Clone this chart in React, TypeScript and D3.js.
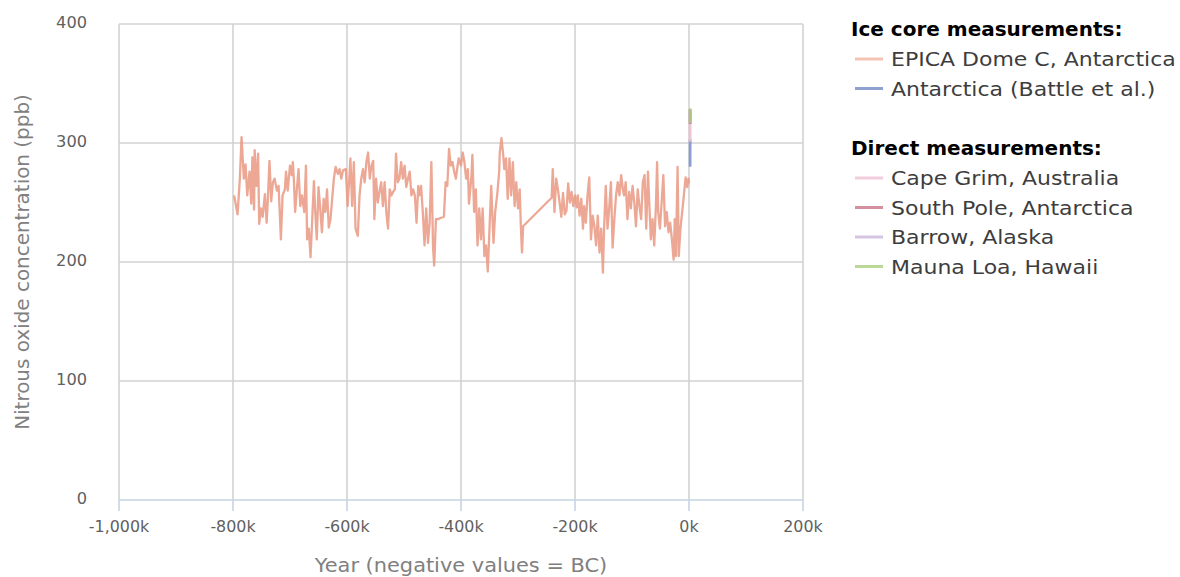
import React from 'react';
import * as d3 from 'd3';

// year in thousands (negative = BC), N2O in ppb
const epicaYears = [
  -798, -792, -788, -785, -781, -778, -775, -771, -768, -766, -763, -762, -759, -756, -754, -751, -748, -744, -741, -739,
  -736, -733, -730, -727, -723, -720, -716, -713, -709, -707, -704, -700, -697, -695, -693, -691, -688, -685, -682, -679,
  -675, -672, -670, -667, -664, -661, -658, -656, -653, -650, -647, -644, -641, -638, -635, -632, -629, -626, -623, -620,
  -616, -613, -610, -607, -602, -599, -596, -594, -591, -588, -585, -581, -578, -575, -572, -569, -566, -563, -560, -557,
  -554, -552, -549, -546, -543, -540, -537, -534, -531, -528, -525, -522, -519, -516, -514, -511, -508, -505, -502, -499,
  -496, -493, -490, -487, -484, -481, -478, -475, -473, -470, -467, -464, -461, -458, -455, -452, -449, -447, -444, -440,
  -436, -430, -427, -424, -421, -418, -415, -412, -409, -406, -404, -400, -397, -394, -391, -388, -386, -382, -380, -377,
  -374, -371, -368, -365, -362, -359, -356, -353, -350, -347, -343, -340, -336, -333, -332, -329, -326, -324, -321, -318,
  -315, -312, -309, -306, -303, -300, -297, -295, -293, -291, -241, -239, -236, -233, -230, -227, -224, -221, -218, -215,
  -212, -209, -206, -203, -200, -197, -195, -192, -189, -186, -184, -181, -178, -175, -172, -169, -166, -163, -160, -157,
  -154, -151, -149, -146, -143, -140, -137, -134, -131, -128, -125, -122, -119, -116, -114, -111, -108, -105, -102, -99,
  -96, -93, -90, -87, -84, -81, -78, -75, -72, -69, -67, -64, -61, -58, -56, -54, -51, -48, -45, -42,
  -39, -36, -33, -30, -27, -25, -23, -20, -18, -15, -12, -9, -6, -3, -1, 0,
];
const epicaValues = [
  256, 240, 270, 305, 270, 282, 256, 276, 249, 288, 244, 294, 264, 291, 232, 245, 238, 257, 233, 251,
  285, 251, 267, 270, 260, 264, 219, 256, 261, 276, 260, 281, 273, 284, 267, 242, 261, 278, 247, 256,
  242, 281, 219, 228, 204, 236, 268, 245, 219, 263, 245, 225, 253, 242, 261, 229, 236, 253, 270, 280,
  274, 278, 270, 277, 278, 247, 270, 287, 247, 284, 228, 222, 256, 270, 278, 267, 284, 292, 270, 281,
  285, 236, 270, 250, 259, 267, 247, 267, 242, 228, 261, 256, 259, 261, 291, 267, 270, 284, 270, 281,
  263, 270, 276, 256, 261, 256, 233, 264, 256, 264, 242, 214, 245, 216, 233, 284, 212, 197, 236, 236,
  237, 238, 267, 264, 295, 281, 284, 276, 270, 281, 287, 281, 292, 284, 270, 278, 249, 270, 290, 242,
  261, 214, 245, 219, 245, 205, 214, 192, 228, 264, 216, 242, 259, 276, 292, 304, 290, 278, 287, 253,
  287, 256, 284, 247, 267, 245, 261, 230, 208, 230, 254, 278, 242, 270, 261, 250, 238, 258, 240, 243,
  266, 250, 259, 247, 256, 246, 256, 239, 253, 228, 247, 233, 256, 271, 219, 239, 230, 214, 239, 208,
  228, 191, 228, 264, 228, 245, 267, 212, 236, 256, 267, 256, 273, 261, 256, 267, 236, 259, 245, 264,
  250, 230, 261, 247, 236, 267, 273, 228, 276, 242, 219, 236, 214, 247, 284, 242, 228, 250, 273, 230,
  242, 225, 233, 219, 202, 236, 205, 280, 205, 228, 242, 256, 271, 263, 270, 266,
];

const battleYears = [1.903, 1.92, 1.94, 1.96, 1.975, 1.99];
const battleValues = [280, 283, 287, 292, 297, 303];
const capeGrimYears = [1.978, 1.99, 2.0, 2.013];
const capeGrimValues = [301, 307, 316, 325];
const southPoleYears = [1.998, 2.006, 2.015];
const southPoleValues = [316, 320, 328];
const barrowYears = [1.999, 2.007, 2.015];
const barrowValues = [317, 321, 328];
const maunaLoaYears = [1.996, 2.005, 2.016];
const maunaLoaValues = [317, 321, 329];

const xTicks = [-1000, -800, -600, -400, -200, 0, 200];
const yTicks = [0, 100, 200, 300, 400];

const iceCoreSeries = [
  { name: 'EPICA Dome C, Antarctica', years: epicaYears, values: epicaValues, color: '#e99883', legend: '#f3c3b4' },
  { name: 'Antarctica (Battle et al.)', years: battleYears, values: battleValues, color: '#7f95cc', legend: '#8ea1cf' },
];
const directSeries = [
  { name: 'Cape Grim, Australia', years: capeGrimYears, values: capeGrimValues, color: '#f0bcd2', legend: '#f2cddc' },
  { name: 'South Pole, Antarctica', years: southPoleYears, values: southPoleValues, color: '#c97f92', legend: '#d4909f' },
  { name: 'Barrow, Alaska', years: barrowYears, values: barrowValues, color: '#cdb5e0', legend: '#d6c4e3' },
  { name: 'Mauna Loa, Hawaii', years: maunaLoaYears, values: maunaLoaValues, color: '#a9c77a', legend: '#bcd898' },
];

const width = 1180;
const height = 577;
const FONT = 'DejaVu Sans, Verdana, sans-serif';

const x = d3.scaleLinear().domain([-1000, 200]).range([119, 803]);
const y = d3.scaleLinear().domain([0, 400]).range([500, 24]);

const fmtX = (v: number) => (v < 0 ? '-' : '') + d3.format(',')(Math.abs(v)) + 'k';

// text with a little horizontal stretch to match the reference glyph widths
const Txt = ({ x, y, sx = 1, rotate = 0, anchor = 'start', size, fill, weight = 'normal', children }: any) => (
  <text
    transform={`translate(${x},${y}) rotate(${rotate}) scale(${sx},1)`}
    textAnchor={anchor}
    fontSize={size}
    fill={fill}
    fontWeight={weight}
    fontFamily={FONT}
  >
    {children}
  </text>
);

const App = () => {
  const pathFor = (s: any) =>
    d3
      .line<[number, number]>()
      .x((d) => x(d[0]))
      .y((d) => y(d[1]))(s.years.map((yr: number, i: number) => [yr, s.values[i]]));

  const allSeries = [...iceCoreSeries, ...directSeries];

  const legendBlock = (title: string, items: any[], top: number) => (
    <g>
      <Txt x={851} y={top + 7} size={20} fill="#000" weight="bold">{title}</Txt>
      {items.map((s, i) => {
        const cy = top + 30 + i * 29.5;
        return (
          <g key={s.name}>
            <line x1={855} x2={883} y1={cy} y2={cy} stroke={s.legend} strokeWidth={3} />
            <Txt x={891} y={cy + 7} sx={1.1} size={20} fill="#3d3d3d">{s.name}</Txt>
          </g>
        );
      })}
    </g>
  );

  return (
    <svg width={width} height={height} style={{ position: 'absolute', left: 0, top: 0, background: '#fff' }}>
      {/* grid */}
      {yTicks.filter((t) => t > 0).map((t) => (
        <line key={'gy' + t} x1={119} x2={803} y1={y(t)} y2={y(t)} stroke="#d2d2d2" strokeWidth={1.6} />
      ))}
      {xTicks.map((t) => (
        <line key={'gx' + t} x1={x(t)} x2={x(t)} y1={y(400)} y2={y(0)} stroke="#d2d2d2" strokeWidth={1.6} />
      ))}
      {/* x axis */}
      <line x1={119} x2={803} y1={y(0)} y2={y(0)} stroke="#c6d4e6" strokeWidth={1.6} />
      {xTicks.map((t) => (
        <g key={'tx' + t}>
          <line x1={x(t)} x2={x(t)} y1={y(0)} y2={y(0) + 11} stroke="#c6d4e6" strokeWidth={1.6} />
          <Txt x={x(t)} y={532} sx={1.06} anchor="middle" size={15} fill="#5f5f5f">{fmtX(t)}</Txt>
        </g>
      ))}
      {yTicks.map((t) => (
        <Txt key={'ty' + t} x={87} y={y(t) + 4} sx={1.08} anchor="end" size={15} fill="#5f5f5f">{t}</Txt>
      ))}
      <Txt x={461} y={572} sx={1.1} anchor="middle" size={19} fill="#808080">Year (negative values = BC)</Txt>
      <Txt x={29} y={262} rotate={-90} sx={1.05} anchor="middle" size={19} fill="#808080">Nitrous oxide concentration (ppb)</Txt>

      {/* series */}
      {allSeries.map((s, i) => (
        <path
          key={s.name}
          d={pathFor(s) || ''}
          fill="none"
          stroke={s.color}
          strokeWidth={i === 0 ? 2.3 : 2.8}
          strokeOpacity={i === 0 ? 0.85 : 0.9}
          strokeLinejoin="round"
        />
      ))}

      {/* legend */}
      {legendBlock('Ice core measurements:', iceCoreSeries, 29)}
      {legendBlock('Direct measurements:', directSeries, 148)}
    </svg>
  );
};

export default App;
